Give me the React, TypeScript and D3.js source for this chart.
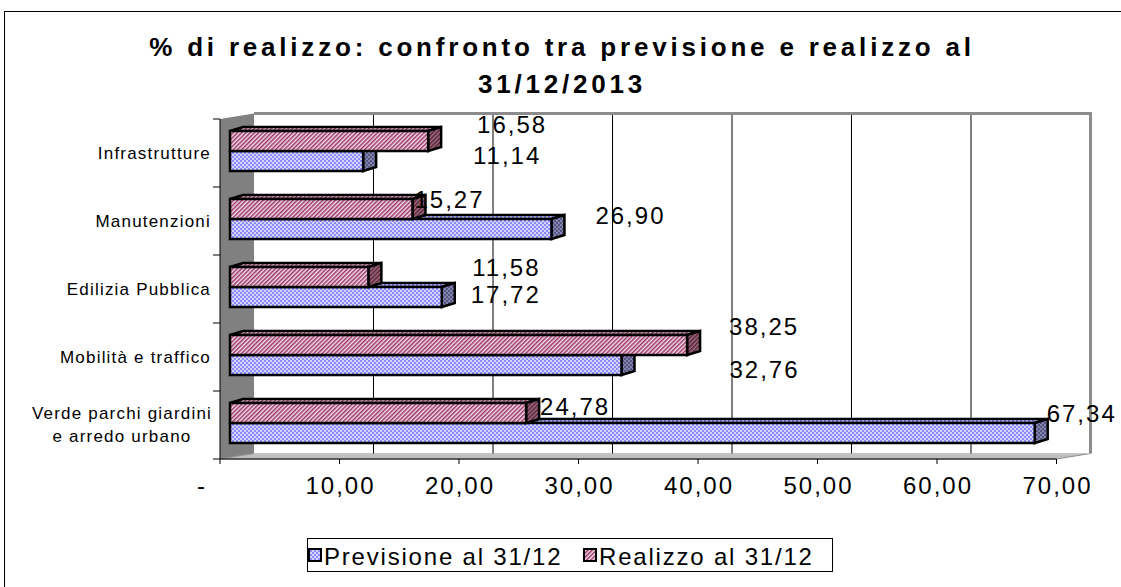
import React from 'react';
import * as d3 from 'd3';

const categoryLines: string[][] = [
  ['Infrastrutture'],
  ['Manutenzioni'],
  ['Edilizia Pubblica'],
  ['Mobilità e traffico'],
  ['Verde parchi giardini', 'e arredo urbano'],
];
const previsione = [11.14, 26.9, 17.72, 32.76, 67.34];
const realizzo = [16.58, 15.27, 11.58, 38.25, 24.78];
const xTicks = [0, 10, 20, 30, 40, 50, 60, 70];
const titleLines = ['% di realizzo: confronto tra previsione e realizzo al', '31/12/2013'];
const legendLabels = ['Previsione al 31/12', 'Realizzo al 31/12'];

// label nudges (Excel 3D label placement), relative to bar end
const realLabelDx = [71, 24, 125, 64, 36];
const realLabelDy = [-16, -9, -9, -18, -6];
const prevLabelDx = [131, 66, 51, 130, 34];
const prevLabelDy = [-5, -13, -2, 5, -19];

const W = 1121;
const H = 587;
const FONT = "'Liberation Sans', Arial, sans-serif";

const locale = d3.formatLocale({ decimal: ',', thousands: '.', grouping: [3], currency: ['', ''] });
const fmt = locale.format('.2f');

export default function App() {
  const front = { left: 220, right: 1056.5, top: 119, bottom: 459 };
  const DX = 34;
  const DY = -5.5;
  const x = d3.scaleLinear().domain([0, 70]).range([front.left, front.right]);
  const xb = d3.scaleLinear().domain([0, 70]).range([front.left + 10, front.right + 10]);
  const keys = categoryLines.map((_, i) => String(i));
  const y = d3.scaleBand<string>().domain(keys).range([front.top, front.bottom]).padding(0);
  const inner = d3.scaleBand<string>().domain(['real', 'prev']).range([12, 52]).padding(0);
  const bdx = 13;
  const bdy = -4;

  const bar = (v: number, y0: number, h: number, fFront: string, fSide: string, fTop: string) => {
    const x0 = xb(0);
    const x1 = xb(v);
    const top = `M${x0},${y0} L${x0 + bdx},${y0 + bdy} L${x1 + bdx},${y0 + bdy} L${x1},${y0} Z`;
    const side = `M${x1},${y0} L${x1 + bdx},${y0 + bdy} L${x1 + bdx},${y0 + h + bdy} L${x1},${y0 + h} Z`;
    return (
      <g stroke="#000" strokeWidth={2.5} strokeLinejoin="miter">
        <path d={top} fill={fTop} />
        <path d={side} fill={fSide} />
        <rect x={x0} y={y0} width={x1 - x0} height={h} fill={fFront} />
      </g>
    );
  };

  const gridX = xTicks.filter((t) => t > 0 && t < 70);
  const backTop = front.top + DY;
  const backBottom = front.bottom + DY;

  return (
    <svg width={W} height={H} style={{ position: 'absolute', left: 0, top: 0, background: '#fff' }} fontFamily={FONT}>
      <defs>
        <pattern id="pPrev" width="4" height="4" patternUnits="userSpaceOnUse">
          <rect width="4" height="4" fill="#d6d6ff" />
          <circle cx="1" cy="1" r="1.1" fill="#8080ff" />
          <circle cx="3" cy="3" r="1.1" fill="#8080ff" />
        </pattern>
        <pattern id="pPrevSide" width="4" height="4" patternUnits="userSpaceOnUse">
          <rect width="4" height="4" fill="#55557f" />
          <circle cx="1" cy="1" r="1.1" fill="#8a8ab8" />
          <circle cx="3" cy="3" r="1.1" fill="#8a8ab8" />
        </pattern>
        <pattern id="pReal" width="3" height="3" patternUnits="userSpaceOnUse" patternTransform="rotate(45)">
          <rect width="3" height="3" fill="#f4e0ea" />
          <rect width="1.5" height="3" fill="#993366" />
        </pattern>
        <pattern id="pRealSide" width="3" height="3" patternUnits="userSpaceOnUse" patternTransform="rotate(45)">
          <rect width="3" height="3" fill="#9a7080" />
          <rect width="1.5" height="3" fill="#5a2038" />
        </pattern>
      </defs>

      {/* outer border */}
      <rect x={4.5} y={11.5} width={1130} height={600} fill="#fff" stroke="#000" strokeWidth={1} />

      {/* title */}
      <g fontWeight="bold" fontSize={26} letterSpacing={3.8} textAnchor="middle" fill="#000">
        {titleLines.map((t, i) => (
          <text key={i} x={562} y={56 + i * 37}>{t}</text>
        ))}
      </g>

      {/* left wall */}
      <path
        d={`M${front.left},${front.top} L${front.left + DX},${backTop} L${front.left + DX},${backBottom} L${front.left},${front.bottom} Z`}
        fill="#808080"
      />
      {/* floor */}
      <path
        d={`M${front.left},${front.bottom} L${front.left + DX},${backBottom} L${front.right + DX},${backBottom} L${front.right},${front.bottom} Z`}
        fill="#c0c0c0"
        stroke="#909090"
        strokeWidth={1}
      />
      {/* back wall */}
      <rect x={front.left + DX} y={backTop} width={front.right - front.left} height={backBottom - backTop} fill="#fff" />
      {gridX.map((t) => (
        <line key={t} x1={x(t) + DX} x2={x(t) + DX} y1={backTop} y2={backBottom} stroke="#000" strokeWidth={1} />
      ))}
      <path
        d={`M${front.left + DX},${backTop} L${front.right + DX},${backTop} L${front.right + DX},${backBottom}`}
        fill="none"
        stroke="#8c8c8c"
        strokeWidth={3}
      />

      {/* axes */}
      <line x1={front.left} x2={front.left} y1={front.top} y2={front.bottom} stroke="#000" />
      <line x1={front.left} x2={front.right} y1={front.bottom} y2={front.bottom} stroke="#000" />
      {[...keys.map((k) => y(k) as number), front.bottom].map((yy, i) => (
        <line key={i} x1={front.left - 7} x2={front.left} y1={yy} y2={yy} stroke="#000" />
      ))}
      {xTicks.map((t) => (
        <line key={t} x1={x(t)} x2={x(t)} y1={front.bottom} y2={front.bottom + 5} stroke="#000" />
      ))}
      <g fontSize={24} letterSpacing={2} fill="#000">
        {xTicks.map((t) =>
          t === 0 ? (
            <text key={t} x={x(t) - 13} y={494} textAnchor="end">-</text>
          ) : (
            <text key={t} x={x(t) + 1} y={494} textAnchor="middle">{fmt(t)}</text>
          )
        )}
      </g>
      <g fontSize={17} letterSpacing={1.2} fill="#000">
        {categoryLines.map((lines, i) => {
          const cy = (y(keys[i]) as number) + y.bandwidth() / 2;
          if (lines.length === 1) {
            return (
              <text key={i} x={211} y={cy} dy="0.35em" textAnchor="end">{lines[0]}</text>
            );
          }
          return (
            <g key={i}>
              {lines.map((l, j) => (
                <text key={j} x={122} y={cy + (j - 0.5) * 23} dy="0.35em" textAnchor="middle">{l}</text>
              ))}
            </g>
          );
        })}
      </g>

      {/* bars */}
      {keys.map((k, i) => {
        const b = y(k) as number;
        const yr = b + (inner('real') as number);
        const yp = b + (inner('prev') as number);
        const h = inner.bandwidth();
        return (
          <g key={k}>
            {bar(previsione[i], yp, h, 'url(#pPrev)', 'url(#pPrevSide)', 'url(#pPrev)')}
            {bar(realizzo[i], yr, h, 'url(#pReal)', 'url(#pRealSide)', 'url(#pReal)')}
          </g>
        );
      })}

      {/* value labels */}
      <g fontSize={24} letterSpacing={2} fill="#000" textAnchor="middle">
        {keys.map((k, i) => {
          const b = y(k) as number;
          const h = inner.bandwidth();
          const yr = b + (inner('real') as number) + h / 2;
          const yp = b + (inner('prev') as number) + h / 2;
          return (
            <g key={k}>
              <text x={xb(realizzo[i]) + bdx + realLabelDx[i]} y={yr + realLabelDy[i]} dy="0.35em">{fmt(realizzo[i])}</text>
              <text x={xb(previsione[i]) + bdx + prevLabelDx[i]} y={yp + prevLabelDy[i]} dy="0.35em">{fmt(previsione[i])}</text>
            </g>
          );
        })}
      </g>

      {/* legend */}
      <rect x={307.5} y={538.5} width={525} height={33} fill="#fff" stroke="#000" strokeWidth={1} />
      <g fontSize={24} letterSpacing={1.8} fill="#000">
        {legendLabels.map((l, i) => {
          const lx = i === 0 ? 309 : 584;
          return (
            <g key={i}>
              <rect x={lx} y={549} width={12} height={12} fill={i === 0 ? 'url(#pPrev)' : 'url(#pReal)'} stroke="#000" strokeWidth={2} />
              <text x={lx + 15} y={565}>{l}</text>
            </g>
          );
        })}
      </g>
    </svg>
  );
}
